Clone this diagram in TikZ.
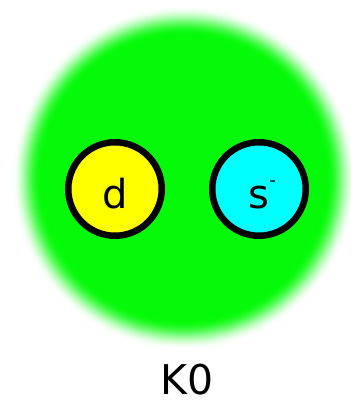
\documentclass[tikz,border=0pt]{standalone}
\usepackage{fontspec}
\setmainfont{DejaVu Sans}
\definecolor{kgreen}{RGB}{4,250,8}
\definecolor{dyellow}{RGB}{255,255,0}
\definecolor{scyan}{RGB}{0,255,255}
\tikzset{
  quark/.style={circle, draw=black, line width=6.5pt, minimum size=93.5pt, inner sep=0pt,
    text height=38pt, text depth=0pt, font=\fontsize{40}{40}\selectfont},
  lbl/.style={anchor=base, inner sep=0pt, font=\fontsize{41}{41}\selectfont}
}
\begin{document}
\begin{tikzpicture}[x=1pt,y=-1pt]
  \useasboundingbox (0,0) rectangle (350,403);
  \coordinate (c) at (184,178);
  \foreach \i in {0,...,30} {
    \pgfmathtruncatemacro{\p}{100*(0.5-0.5*cos(180*\i/30))}
    \fill[kgreen!\p!white] (c) circle ({173-\i});
  }
  \node[quark, fill=dyellow] (d) at (115,189) {d};
  \node[quark, fill=scyan] (s) at (259,189) {s\rlap{\raisebox{22pt}{\fontsize{18}{18}\selectfont -}}};
  \node[lbl] (k) at (187,394) {K0};
\end{tikzpicture}
\end{document}
